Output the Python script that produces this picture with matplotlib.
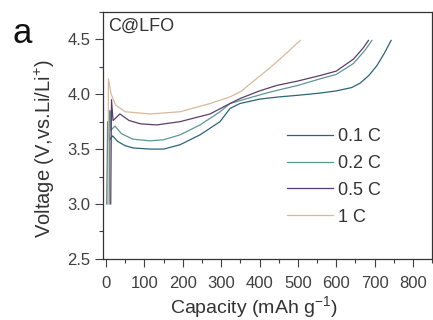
import numpy as np
import matplotlib
matplotlib.use("Agg")
import matplotlib.pyplot as plt
from matplotlib.ticker import MultipleLocator

plt.rcParams['font.family'] = ['Liberation Sans', 'DejaVu Sans']

# ---- data (capacity mAh/g, voltage V) ----
labels = ["0.1 C", "0.2 C", "0.5 C", "1 C"]
colors = ["#2b6477", "#5e9694", "#5b3d6b", "#d9b99a"]

cap_01 = [2, 4, 8, 17, 30, 50, 71, 115, 150, 193, 245, 297, 323, 349, 400, 450,
          500, 558, 600, 640, 662, 685, 706, 725, 743]
volt_01 = [3.0, 3.75, 3.58, 3.62, 3.57, 3.53, 3.51, 3.50, 3.50, 3.54, 3.63, 3.75,
           3.87, 3.915, 3.955, 3.975, 3.99, 4.01, 4.03, 4.06, 4.10, 4.17, 4.26, 4.37, 4.49]

cap_02 = [8, 10, 12, 23, 40, 70, 115, 150, 193, 245, 297, 323, 367, 428, 500,
          558, 600, 645, 675, 693]
volt_02 = [3.0, 3.85, 3.67, 3.71, 3.64, 3.59, 3.575, 3.585, 3.63, 3.72, 3.84,
           3.915, 3.96, 4.02, 4.08, 4.14, 4.18, 4.28, 4.40, 4.49]

cap_05 = [12, 14, 18, 36, 60, 90, 132, 193, 271, 323, 349, 400, 445, 500, 558,
          600, 645, 670, 684]
volt_05 = [3.0, 3.95, 3.76, 3.82, 3.76, 3.73, 3.72, 3.75, 3.82, 3.915, 3.96,
           4.03, 4.08, 4.12, 4.17, 4.21, 4.32, 4.42, 4.49]

cap_1 = [5, 6, 13, 25, 50, 115, 193, 271, 323, 354, 367, 420, 460, 506]
volt_1 = [3.0, 4.14, 4.0, 3.9, 3.84, 3.82, 3.84, 3.915, 3.975, 4.03, 4.07,
          4.22, 4.34, 4.49]

caps = [cap_01, cap_02, cap_05, cap_1]
volts = [volt_01, volt_02, volt_05, volt_1]

# ---- figure ----
fig = plt.figure(figsize=(4.33, 3.2), dpi=100)
ax = fig.add_axes([0.238, 0.191, 0.760, 0.772])

for c, v, lab, col in zip(caps, volts, labels, colors):
    ax.plot(c, v, color=col, linewidth=0.9, label=lab)

ax.set_xlim(-8, 850)
ax.set_ylim(2.5, 4.75)
ax.xaxis.set_major_locator(MultipleLocator(100))
ax.xaxis.set_minor_locator(MultipleLocator(50))
ax.yaxis.set_major_locator(MultipleLocator(0.5))
ax.yaxis.set_minor_locator(MultipleLocator(0.25))
ax.yaxis.set_major_formatter(matplotlib.ticker.FormatStrFormatter('%.1f'))

ax.tick_params(which='both', direction='out', top=False, right=False,
               colors='#404040', labelsize=12)
ax.tick_params(which='major', length=6, width=0.8)
ax.tick_params(which='minor', length=3, width=0.8)
ax.tick_params(axis='x', which='major', pad=6)
ax.tick_params(axis='y', which='major', pad=3)
for s in ax.spines.values():
    s.set_color('#333333')
    s.set_linewidth(0.9)

ax.set_xlabel("Capacity (mAh g$^{\\mathregular{-1}}$)", fontsize=14,
              color='#333333', va='center')
ax.xaxis.set_label_coords(0.459, -0.198)
ax.set_ylabel("Voltage (V,vs.Li/Li$^{\\mathregular{+}}$)", fontsize=14.5,
              color='#333333', va='center')
ax.yaxis.set_label_coords(-0.176, 0.445)

ax.text(0.015, 0.94, "C@LFO", transform=ax.transAxes, fontsize=13,
        color='#333333', va='center', ha='left')
fig.text(0.028, 0.895, "a", fontsize=25, color='#111111', va='center', ha='left')

leg = ax.legend(loc='upper left', bbox_to_anchor=(0.559, 0.53), frameon=False,
                fontsize=13, handlelength=2.55, handletextpad=0.3,
                labelspacing=0.55, borderpad=0, borderaxespad=0)
for t in leg.get_texts():
    t.set_color('#333333')

fig.savefig("out.png", dpi=100)
plt.close()
